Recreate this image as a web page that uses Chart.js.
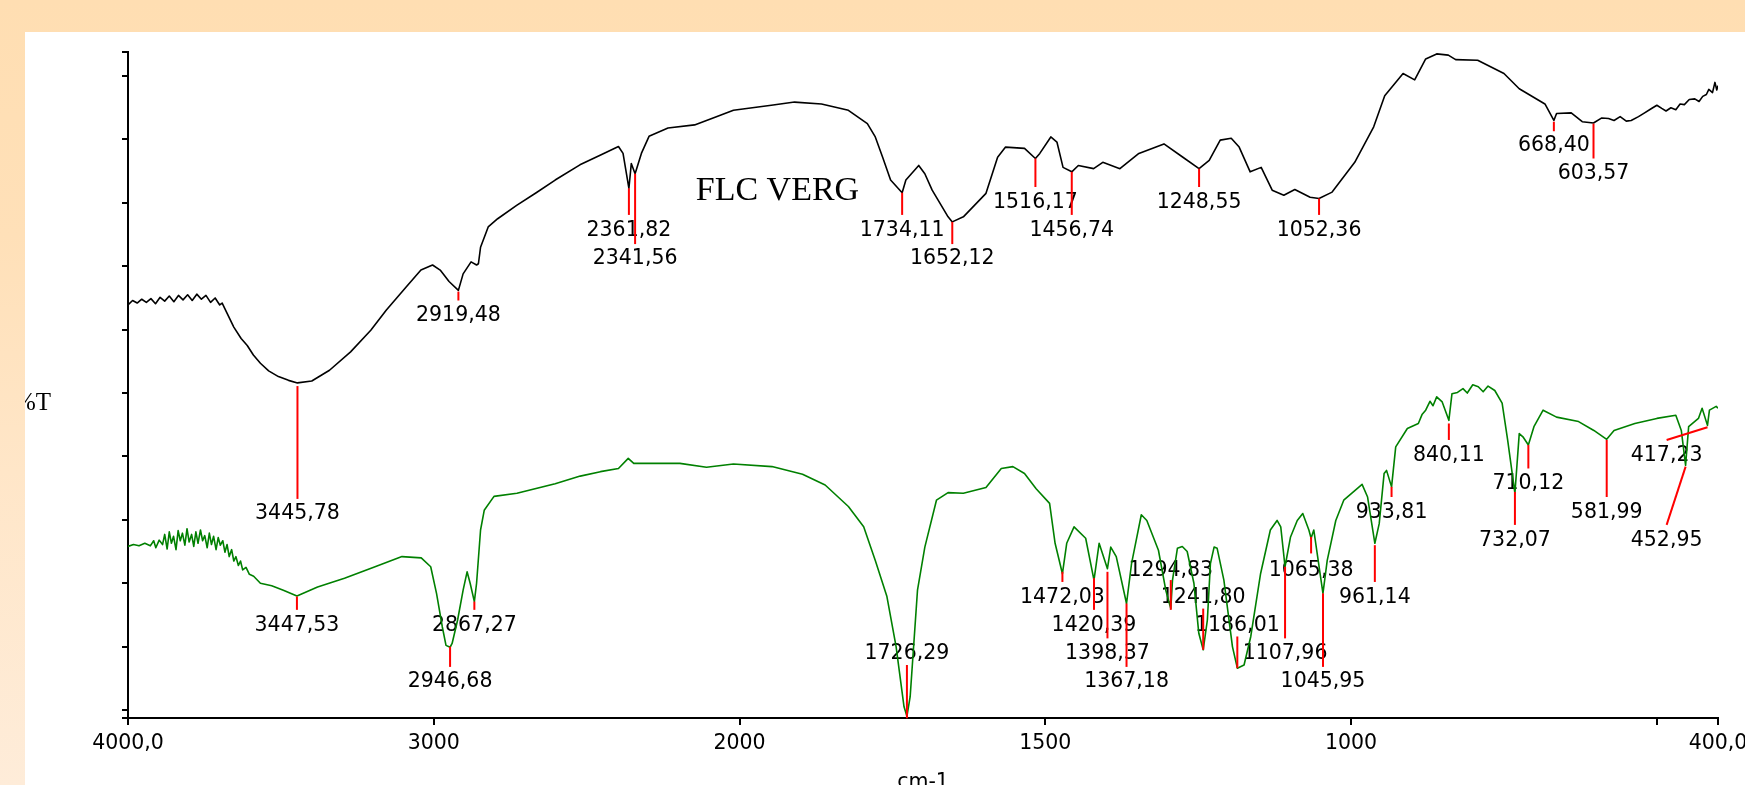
<!DOCTYPE html>
<html lang="fr">
<head>
<meta charset="UTF-8">
<title>FLC VERG - IR</title>
<script src="https://cdn.jsdelivr.net/npm/chart.js"></script>
<style>
  body {
    margin: 0;
    width: 1745px;
    height: 785px;
    overflow: hidden;
    position: relative;
    background: linear-gradient(to bottom, #ffdeb2 0%, #ffe0b8 30%, #ffe6c8 60%, #feecd9 100%);
  }
  #panel { position: absolute; left: 25px; top: 32px; right: 0; bottom: 0; background: #fff; }
  #spectrum { position: absolute; left: 25px; top: 32px; }
</style>
</head>
<body>
<div id="panel"></div>
<canvas id="spectrum" width="1760" height="753"></canvas>
<script>
// x axis (cm-1)
const xTicks = [4000, 3000, 2000, 1500, 1000, 500, 400];
const xTickLabels = ["4000,0", "3000", "2000", "1500", "1000", "", "400,0"];
const yTicks = [-1.26, 0, 10, 20, 30, 40, 50, 60, 70, 80, 90, 100, 103.8];

// upper spectrum (black)
const blackWn = [4000, 3985, 3970, 3955, 3940, 3925, 3910, 3895, 3880, 3865, 3850, 3835, 3820, 3805, 3790, 3775, 3760, 3745, 3730, 3715,
  3700, 3692, 3675, 3654, 3630, 3610, 3590, 3567, 3540, 3508, 3475, 3445.8, 3399, 3341, 3272, 3206, 3155, 3091, 3042, 3004,
  2979, 2950, 2919.5, 2904, 2878, 2860, 2854, 2847, 2822, 2791, 2729, 2665, 2603, 2522, 2456, 2396, 2381, 2361.8, 2354, 2341.6,
  2321, 2296, 2234, 2147, 2080, 2020, 1948, 1910, 1866, 1822, 1791, 1778, 1766, 1753, 1734.1, 1728, 1707, 1697, 1685, 1659,
  1652.1, 1634, 1597, 1578, 1565, 1534, 1516.2, 1509, 1491, 1481, 1471, 1456.7, 1446, 1421, 1406, 1378, 1347, 1306, 1275, 1248.6,
  1232, 1214, 1196, 1183, 1165, 1147, 1129, 1110, 1092, 1067, 1052.4, 1031, 994, 963, 945, 915, 896, 878, 860, 841,
  829, 793, 750, 725, 683, 668.4, 664, 640, 622, 603.6, 590, 579, 570, 560, 550, 542, 530, 520, 510, 500,
  492, 485, 477, 469, 462, 455, 447, 438, 431, 425, 419, 415, 409, 405, 402, 400];
const blackT = [63.9, 64.6, 64.2, 64.8, 64.3, 64.9, 64.1, 65.1, 64.5, 65.3, 64.4, 65.4, 64.7, 65.5, 64.6, 65.6, 64.8, 65.4, 64.3, 65.0,
  63.9, 64.2, 62.5, 60.4, 58.6, 57.5, 56.0, 54.7, 53.5, 52.6, 52.0, 51.6, 51.9, 53.6, 56.5, 59.9, 63.1, 66.7, 69.4, 70.2,
  69.4, 67.6, 66.2, 68.8, 70.7, 70.2, 70.4, 73.0, 76.2, 77.5, 79.6, 81.6, 83.6, 86.0, 87.5, 88.9, 87.8, 82.3, 86.2, 84.6,
  87.8, 90.5, 91.8, 92.3, 93.5, 94.6, 95.4, 95.9, 95.6, 94.6, 92.5, 90.4, 87.2, 83.6, 81.6, 83.6, 85.9, 84.6, 82.0, 77.8,
  77.0, 77.8, 81.5, 87.2, 88.8, 88.6, 87.0, 87.8, 90.4, 89.6, 85.6, 84.9, 85.9, 85.4, 86.4, 85.4, 87.8, 89.3, 87.2, 85.4,
  86.7, 89.9, 90.2, 88.8, 84.9, 85.6, 82.0, 81.2, 82.1, 80.9, 80.7, 81.7, 86.4, 92.0, 96.9, 100.4, 99.4, 102.7, 103.5, 103.3,
  102.6, 102.5, 100.4, 98.0, 95.6, 93.0, 94.1, 94.2, 92.8, 92.6, 93.4, 93.3, 93.0, 93.6, 92.9, 93.0, 93.6, 94.2, 94.8, 95.4,
  94.9, 94.5, 95.0, 94.7, 95.6, 95.5, 96.3, 96.4, 96.0, 96.8, 97.1, 97.9, 97.4, 99.0, 97.8, 98.5];

// lower spectrum (green)
const greenWn = [4000, 3982, 3964, 3945, 3927, 3916, 3909, 3898, 3887, 3880, 3872, 3865, 3858, 3851, 3843, 3836, 3829, 3822, 3814, 3807,
  3800, 3792, 3785, 3778, 3771, 3763, 3756, 3749, 3741, 3734, 3727, 3720, 3712, 3705, 3698, 3690, 3683, 3676, 3669, 3661,
  3654, 3647, 3639, 3632, 3625, 3614, 3603, 3589, 3567, 3530, 3492, 3447.5, 3380, 3292, 3192, 3104, 3041, 3010, 2991, 2972,
  2960, 2946.7, 2940, 2922, 2904, 2891, 2881, 2867.3, 2860, 2847, 2835, 2803, 2728, 2603, 2521, 2455, 2396, 2364, 2346, 2270,
  2195, 2108, 2020, 1947, 1897, 1860, 1822, 1797, 1778, 1759, 1744, 1731, 1726.3, 1721, 1709, 1697, 1678, 1659, 1634, 1597,
  1572, 1553, 1534, 1515, 1493, 1484, 1472, 1465, 1453, 1434, 1420.4, 1412, 1398.4, 1393, 1384, 1367.2, 1359, 1343, 1334, 1315,
  1303, 1294.8, 1292, 1284, 1276, 1268, 1257, 1249, 1241.8, 1235, 1230, 1224, 1219, 1208, 1194, 1186, 1175, 1164, 1148, 1132,
  1121, 1115, 1108, 1099, 1088, 1079, 1069, 1065.4, 1061, 1046, 1039, 1025, 1012, 982, 973, 961.1, 954, 946, 942, 933.8,
  927, 908, 890, 884, 878, 871, 866, 860, 851, 840.1, 835, 826, 817, 810, 801, 792, 784, 776, 765, 753,
  744, 732.1, 725, 719, 710.1, 701, 686, 664, 628, 603, 582, 570, 536, 500, 469, 460, 453, 448, 432, 426,
  417.2, 414, 403, 400];
const greenT = [25.8, 26.1, 25.9, 26.3, 25.9, 26.7, 25.6, 26.8, 26.1, 27.7, 25.4, 28.1, 26.3, 27.4, 25.3, 28.3, 26.7, 27.9, 26.0, 28.6,
  26.5, 27.7, 25.8, 28.1, 26.3, 28.4, 26.7, 27.5, 25.6, 27.9, 26.1, 27.4, 25.3, 27.2, 26.0, 26.7, 24.9, 26.1, 24.2, 25.3,
  23.5, 24.2, 22.8, 23.5, 22.1, 22.5, 21.4, 21.1, 20.0, 19.6, 18.9, 18.0, 19.4, 20.8, 22.6, 24.2, 24.0, 22.6, 18.4, 13.1,
  10.2, 9.9, 10.5, 14.2, 18.9, 21.8, 20.0, 17.1, 20.0, 28.4, 31.5, 33.7, 34.2, 35.7, 36.9, 37.6, 38.1, 39.7, 38.9, 38.9,
  38.9, 38.3, 38.8, 38.4, 37.2, 35.5, 32.1, 28.9, 23.6, 17.9, 10.0, 0.5, -1.0, 2.1, 18.9, 25.7, 33.1, 34.3, 34.2, 35.1,
  38.1, 38.4, 37.3, 34.9, 32.6, 26.3, 21.5, 26.3, 28.9, 27.1, 20.5, 26.3, 22.3, 25.7, 24.2, 16.8, 23.1, 30.8, 29.9, 25.2,
  18.9, 16.0, 20.5, 25.5, 25.8, 25.0, 20.0, 12.1, 9.5, 14.2, 23.1, 25.7, 25.5, 20.5, 10.0, 6.6, 7.1, 11.6, 21.5, 28.4,
  29.9, 28.9, 22.6, 27.3, 29.9, 31.0, 28.4, 27.1, 28.4, 18.4, 23.6, 29.9, 33.1, 35.6, 33.6, 26.3, 29.4, 37.3, 37.8, 35.2,
  41.5, 44.4, 45.2, 46.6, 47.3, 48.7, 48.0, 49.4, 48.6, 45.7, 49.9, 50.1, 50.7, 50.0, 51.3, 51.0, 50.2, 51.1, 50.4, 48.4,
  42.6, 34.2, 43.6, 43.1, 41.8, 44.7, 47.3, 46.2, 45.5, 44.1, 42.7, 44.1, 45.2, 46.0, 46.5, 44.1, 38.6, 44.7, 46.0, 47.6,
  44.9, 47.3, 47.9, 47.6];

// peak picks: position, red tick from / to (%T), label height (%T)
const blackPeaks = [3445.78, 2919.48, 2361.82, 2341.56, 1734.11, 1652.12, 1516.17, 1456.74, 1248.55, 1052.36, 668.40, 603.57];
const blackTickFrom = [51.1, 66.0, 82.3, 84.6, 81.6, 77.0, 87.0, 84.9, 85.4, 80.7, 92.8, 92.5];
const blackTickTo = [33.3, 64.6, 78.1, 73.5, 78.1, 73.5, 82.5, 78.1, 82.5, 78.1, 91.3, 87.0];
const blackLabelT = [31.3, 62.5, 76.0, 71.5, 76.0, 71.5, 80.4, 76.0, 80.4, 76.0, 89.3, 84.9];

const greenPeaks = [3447.53, 2946.68, 2867.27, 1726.29, 1472.03, 1420.39, 1398.37, 1367.18, 1294.83, 1241.80, 1186.01,
  1107.96, 1065.38, 1045.95, 961.14, 933.81, 840.11, 732.07, 710.12, 581.99, 452.95, 417.23];
const greenTickFrom = [17.9, 10.0, 17.1, -1.3, 21.8, 20.8, 21.8, 16.8, 15.8, 9.5, 6.6,
  22.6, 27.3, 18.4, 26.0, 35.2, 45.2, 34.4, 41.8, 42.6, 38.4, 44.6];
const greenTickTo = [15.8, 6.8, 15.8, 7.1, 20.2, 15.8, 11.3, 6.8, 20.5, 16.0, 11.6,
  11.3, 24.7, 6.8, 20.2, 33.6, 42.6, 29.2, 38.1, 33.6, 29.2, 42.6];
const greenLabelT = [13.7, 4.8, 13.7, 9.3, 18.0, 13.7, 9.3, 4.8, 22.3, 18.1, 13.7,
  9.3, 22.3, 4.8, 18.1, 31.5, 40.5, 27.1, 36.0, 31.5, 27.1, 40.5];
// labels moved off their peak (null = under the peak)
const greenLabelWn = [null, null, null, null, null, null, null, null, null, null, null,
  null, null, null, null, null, null, null, null, null, 484, 484];

const sampleName = "FLC VERG";
const sampleNameAt = [1938, 81.8];

// FTIR wavenumber axis: 4000-2000 at one scale, below 2000 twice as wide
const breakWn = 2000;
class FtirScale extends Chart.LinearScale {
  ftirSpan() {
    return (this.max - breakWn) + 2 * (breakWn - this.min);
  }
  getPixelForValue(value) {
    const u = value >= breakWn ? this.max - value : (this.max - breakWn) + 2 * (breakWn - value);
    return this.getPixelForDecimal(u / this.ftirSpan());
  }
  getValueForPixel(pixel) {
    const u = this.getDecimalForPixel(pixel) * this.ftirSpan();
    const hi = this.max - breakWn;
    return u <= hi ? this.max - u : breakWn - (u - hi) / 2;
  }
}
FtirScale.id = "ftir";
FtirScale.defaults = Chart.LinearScale.defaults;
Chart.register(FtirScale);

const peakSets = [
  { wn: blackPeaks, from: blackTickFrom, to: blackTickTo, label: blackLabelT, labelWn: [] },
  { wn: greenPeaks, from: greenTickFrom, to: greenTickTo, label: greenLabelT, labelWn: greenLabelWn },
];
const labelFont = "20.5px 'DejaVu Sans'";

const peakMarks = {
  id: "peakMarks",
  beforeDatasetsDraw(chart) {
    const { ctx, scales: { x, y } } = chart;
    ctx.save();
    ctx.font = labelFont;
    ctx.fillStyle = "#000";
    ctx.textAlign = "center";
    ctx.textBaseline = "alphabetic";
    peakSets.forEach((set) => {
      set.wn.forEach((w, i) => {
        const lw = set.labelWn[i] || w;
        const text = w.toFixed(2).replace(".", ",");
        ctx.fillText(text, x.getPixelForValue(lw), y.getPixelForValue(set.label[i]) + 7.5);
      });
    });
    ctx.font = "34px 'Liberation Serif'";
    ctx.textBaseline = "middle";
    ctx.fillText(sampleName, x.getPixelForValue(sampleNameAt[0]), y.getPixelForValue(sampleNameAt[1]));
    ctx.restore();
  },
  afterDatasetsDraw(chart) {
    const { ctx, scales: { x, y } } = chart;
    ctx.save();
    ctx.strokeStyle = "#ff0000";
    ctx.lineWidth = 2;
    peakSets.forEach((set) => {
      set.wn.forEach((w, i) => {
        const lw = set.labelWn[i] || w;
        ctx.beginPath();
        ctx.moveTo(x.getPixelForValue(w), y.getPixelForValue(set.from[i]));
        ctx.lineTo(x.getPixelForValue(lw), y.getPixelForValue(set.to[i]));
        ctx.stroke();
      });
    });
    ctx.restore();
  },
  afterDraw(chart) {
    const { ctx, chartArea } = chart;
    ctx.save();
    ctx.fillStyle = "#000";
    // y title, partly hidden by the frame on the left
    ctx.font = "25px 'Liberation Serif'";
    ctx.textAlign = "right";
    ctx.textBaseline = "middle";
    ctx.fillText("%T", 26, 371);
    // x title, cut by the bottom edge
    ctx.font = labelFont;
    ctx.textAlign = "center";
    ctx.textBaseline = "alphabetic";
    ctx.fillText("cm-1", (chartArea.left + chartArea.right) / 2, 756);
    ctx.restore();
  },
};

new Chart(document.getElementById("spectrum"), {
  type: "line",
  data: {
    datasets: [
      {
        label: "FLC VERG",
        data: blackWn.map((w, i) => ({ x: w, y: blackT[i] })),
        borderColor: "#000",
        borderWidth: 1.6,
        borderJoinStyle: "round",
        pointRadius: 0,
      },
      {
        label: "ref",
        data: greenWn.map((w, i) => ({ x: w, y: greenT[i] })),
        borderColor: "#008000",
        borderWidth: 1.6,
        borderJoinStyle: "round",
        pointRadius: 0,
      },
    ],
  },
  options: {
    responsive: false,
    animation: false,
    layout: { padding: { top: 20, right: 67, bottom: 0, left: 0 } },
    plugins: { legend: { display: false }, tooltip: { enabled: false } },
    scales: {
      x: {
        type: "ftir",
        min: 400,
        max: 4000,
        afterBuildTicks: (s) => { s.ticks = xTicks.map((v) => ({ value: v })); },
        afterFit: (s) => { s.height = 67; },
        grid: { drawOnChartArea: false, tickLength: 7, color: "#000", lineWidth: 2 },
        border: { color: "#000", width: 2 },
        ticks: {
          autoSkip: false,
          maxRotation: 0,
          padding: 6,
          color: "#000",
          font: { family: "DejaVu Sans", size: 20.5 },
          callback: (v, i) => xTickLabels[i],
        },
      },
      y: {
        min: -1.26,
        max: 103.8,
        afterBuildTicks: (s) => { s.ticks = yTicks.map((v) => ({ value: v })); },
        afterFit: (s) => { s.width = 103; },
        grid: { drawOnChartArea: false, tickLength: 6, color: "#000", lineWidth: 2 },
        border: { color: "#000", width: 2 },
        ticks: { display: false },
      },
    },
  },
  plugins: [peakMarks],
});
</script>
</body>
</html>
